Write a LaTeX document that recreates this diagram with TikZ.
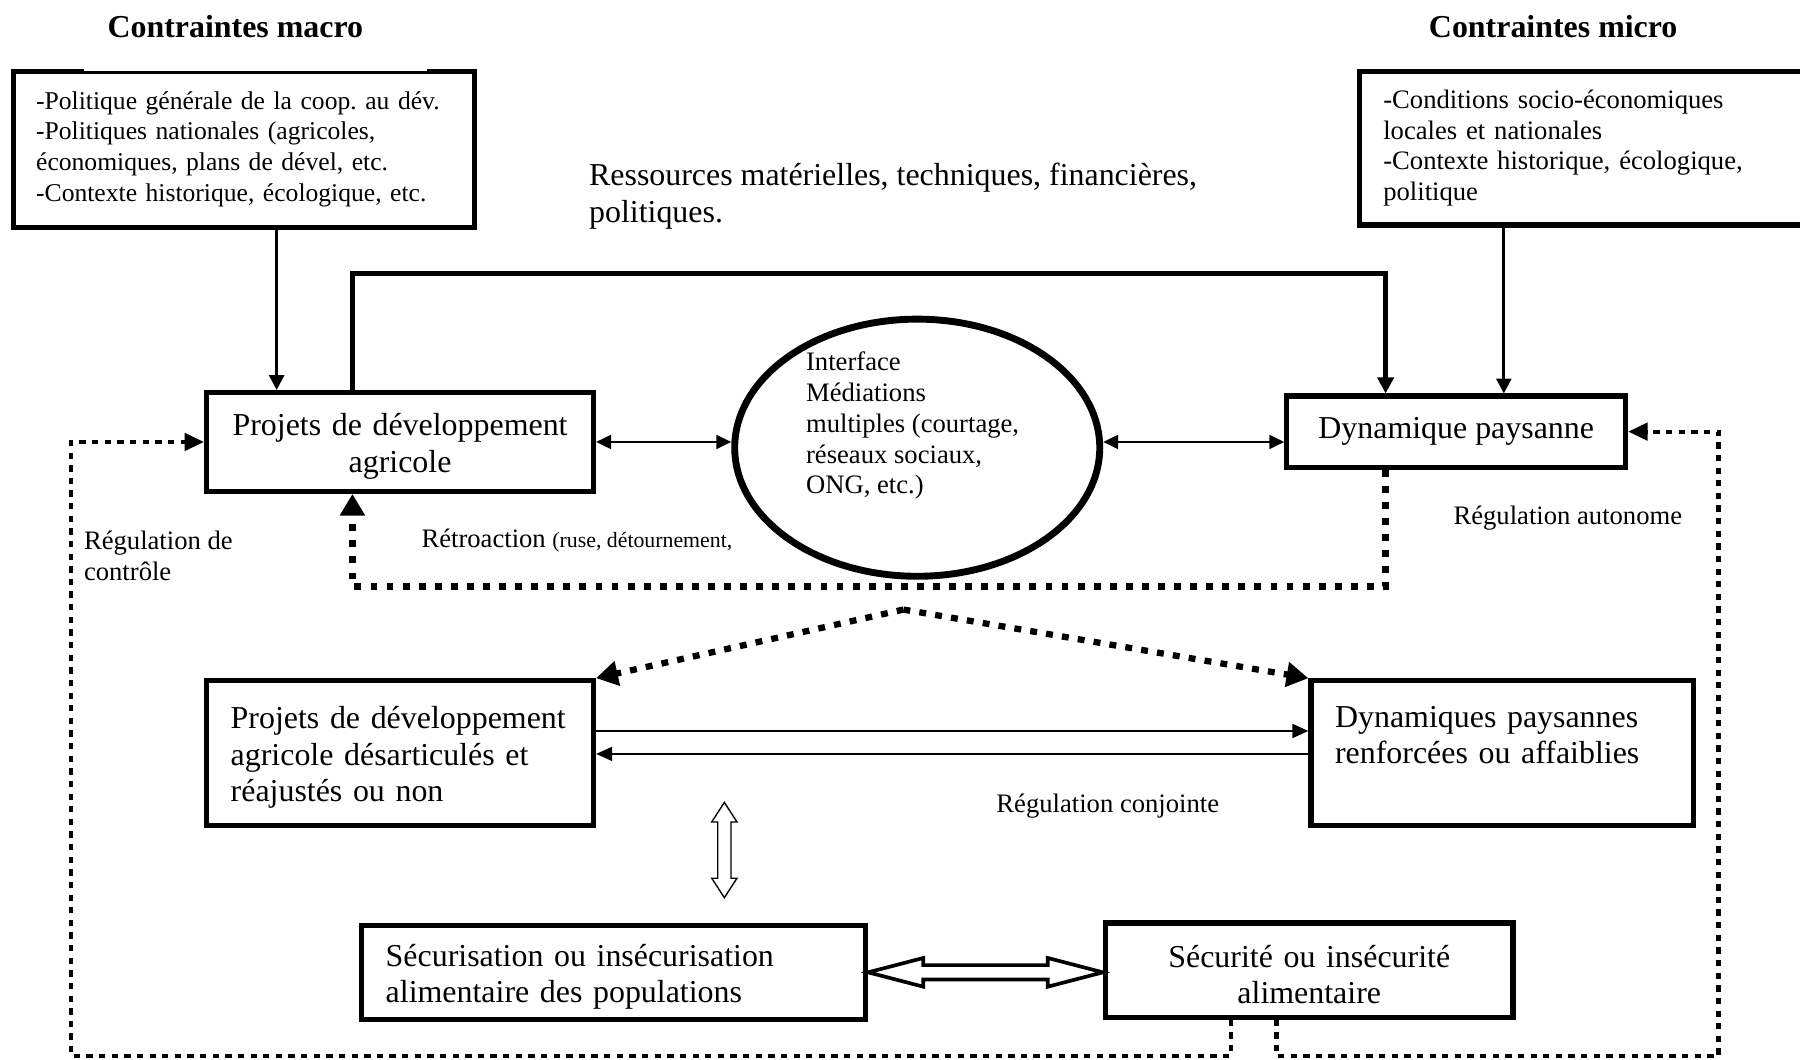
\documentclass[tikz,border=0pt]{standalone}
\usepackage{fontspec}
\setmainfont{Liberation Serif}
\usepackage{tikz}
\usetikzlibrary{arrows.meta, shapes.geometric, calc}
\frenchspacing
\newcommand{\txtnorm}{\fontsize{23.2}{26.8}\selectfont}
\newcommand{\txtmacro}{\fontsize{22.3}{26.8}\selectfont}
\newcommand{\txtbig}{\fontsize{27.8}{31.8}\selectfont}
\newcommand{\txtsmall}{\fontsize{19}{22}\selectfont}
\tikzset{every picture/.style={x=1pt, y=-1pt},
  boite/.style={draw, line width=4.5pt, inner sep=0pt, font=\txtbig},
  bas/.style={execute at begin node={\rule{0pt}{27pt}}},
  fleche/.style={line width=2.6pt, -{Triangle[length=13pt,width=13pt]}},
  grosse/.style={line width=4.5pt, -{Triangle[length=14pt,width=14pt]}},
  fin/.style={line width=2.2pt, {Triangle[length=13pt,width=12pt]}-{Triangle[length=13pt,width=12pt]}},
  finun/.style={line width=2.2pt, -{Triangle[length=14pt,width=12pt]}},
  retro/.style={line width=5.5pt, dash pattern=on 6pt off 8pt, -{Triangle[length=19pt,width=21pt]}},
  pointille/.style={line width=3.6pt, dash pattern=on 5.5pt off 5.5pt, -{Triangle[length=17pt,width=15pt]}},
  creux/.style={draw, fill=white, line join=miter}}

\begin{document}
\begin{tikzpicture}
    \useasboundingbox (0,0) rectangle (1568,923);
    % titres et contraintes
    \node[font=\txtbig\bfseries] (tmacro) at (205,23) {Contraintes macro};
    \node[font=\txtbig\bfseries] (tmicro) at (1353,23) {Contraintes micro};
    \node[boite, font=\txtmacro, minimum width=401pt, minimum height=136pt, text width=362pt, align=left] (macro) at (212.5,130)
      {-Politique générale de la coop. au dév.\\-Politiques nationales (agricoles,\\économiques, plans de dével, etc.\\-Contexte historique, écologique, etc.};
    \fill[white] ($(macro.north west)+(63,0)$) rectangle ($(macro.north east)+(-43,2.2)$);
    \node[boite, font=\txtnorm, minimum width=388pt, minimum height=134pt, text width=346pt, align=left] (micro) at (1378,129)
      {-Conditions socio-économiques\\locales et nationales\\-Contexte historique, écologique,\\politique};
    \node[font=\txtbig, anchor=west, align=left, inner sep=0pt] (ress) at (513,171) {Ressources matérielles, techniques, financières,\\politiques.};

    % niveau du haut
    \node[boite, bas, minimum width=337pt, minimum height=86pt, text width=300pt, align=center] (proj) at (348.5,385) {Projets de développement\\agricole};
    \node[boite, minimum width=295pt, minimum height=62pt] (dyn) at (1268.5,376) {Dynamique paysanne};
    \node[draw, ellipse, line width=6pt, minimum width=318pt, minimum height=224pt] (iface) at (799,390) {};
    \node[font=\txtnorm, anchor=west, align=left, inner sep=0pt] (ifacetxt) at (702,371) {Interface\\Médiations\\multiples (courtage,\\réseaux sociaux,\\ONG, etc.)};

    \node[font=\txtnorm, anchor=west, align=left, inner sep=0pt] (regctl) at (73,484) {Régulation de\\contrôle};
    \node[font=\txtnorm, anchor=west, inner sep=0pt] (retro) at (367,471) {Rétroaction {\txtsmall (ruse, détournement,}};
    \node[font=\txtnorm, anchor=west, inner sep=0pt] (regauto) at (1266,451) {Régulation autonome};

    % niveau du bas
    \node[boite, bas, minimum width=337pt, minimum height=126pt, text width=295pt, align=left] (projd) at (348.5,656) {Projets de développement\\agricole désarticulés et\\réajustés ou non};
    \node[boite, minimum width=333pt, minimum height=126pt, text width=291pt, align=left] (dynr) at (1308.5,656) {Dynamiques paysannes\\renforcées ou affaiblies\\~};
    \node[font=\txtnorm, inner sep=0pt] (regconj) at (965,702) {Régulation conjointe};
    \node[boite, bas, minimum width=439pt, minimum height=82pt, text width=397pt, align=left] (secur) at (534.5,847) {Sécurisation ou insécurisation\\alimentaire des populations};
    \node[boite, bas, minimum width=355pt, minimum height=82pt, text width=320pt, align=center] (secu) at (1140.5,845) {Sécurité ou insécurité\\alimentaire};

    \coordinate (mx) at (241,0);
    \coordinate (ux) at (1310,0);
    \coordinate (tl) at (307,238);
    \coordinate (tr) at (1207,238);
    \coordinate (rl) at (307,511);
    \coordinate (rr) at (1207,511);
    \coordinate (bl) at (62,920);
    \coordinate (bm1) at (1072,920);
    \coordinate (bm2) at (1112,920);
    \coordinate (br) at (1497,920);
    \coordinate (apex) at (787,531);
    \coordinate (vt) at (631,699);
    \coordinate (vb) at (631,782);
    \coordinate (m1) at ([yshift=-46pt]projd.north east);
    \coordinate (m2) at ([yshift=-66pt]projd.north east);
    \coordinate (hl) at (secur.east);
    \coordinate (hr) at (secu.west |- secur.east);

    \draw[fleche] (macro.south -| mx) -- (proj.north -| mx);
    \draw[fleche] (micro.south -| ux) -- (dyn.north -| ux);
    \draw[grosse] (proj.north -| tl) -- (tl) -- (tr) -- (dyn.north -| tr);
    \draw[fin] (proj.east) -- (proj.east -| iface.west);
    \draw[fin] (iface.east |- proj.east) -- (dyn.west |- proj.east);

    \draw[retro] (dyn.south -| rr) -- (rr) -- (rl) -- (proj.south -| rl);
    \draw[retro] (apex) -- (projd.north east);
    \draw[retro] (apex) -- (dynr.north west);
    \draw[pointille] (secu.south -| bm1) -- (bm1) -- (bl) -- (bl |- proj.west) -- (proj.west);
    \draw[pointille] (secu.south -| bm2) -- (bm2) -- (br) -- (br |- dyn.east) -- (dyn.east);

    \draw[finun] (m1) -- (m1 -| dynr.west);
    \draw[finun] (m2 -| dynr.west) -- (m2);

    % fleches creuses
    \path[creux, line width=1.2pt] (vt) -- ++(11,17) -- ++(-5.2,0) -- ($(vb)+(5.8,-17)$) -- ++(5.2,0) -- (vb)
      -- ++(-11,-17) -- ++(5.2,0) -- ($(vt)+(-5.8,17)$) -- ++(-5.2,0) -- cycle;
    \path[creux, line width=3.2pt] (hl) -- ++(48,-12.5) -- ++(0,6.2) -- ($(hr)+(-48,-6.3)$) -- ++(0,-6.2) -- (hr)
      -- ++(-48,12.5) -- ++(0,-6.2) -- ($(hl)+(48,6.3)$) -- ++(0,6.2) -- cycle;
\end{tikzpicture}
\end{document}
